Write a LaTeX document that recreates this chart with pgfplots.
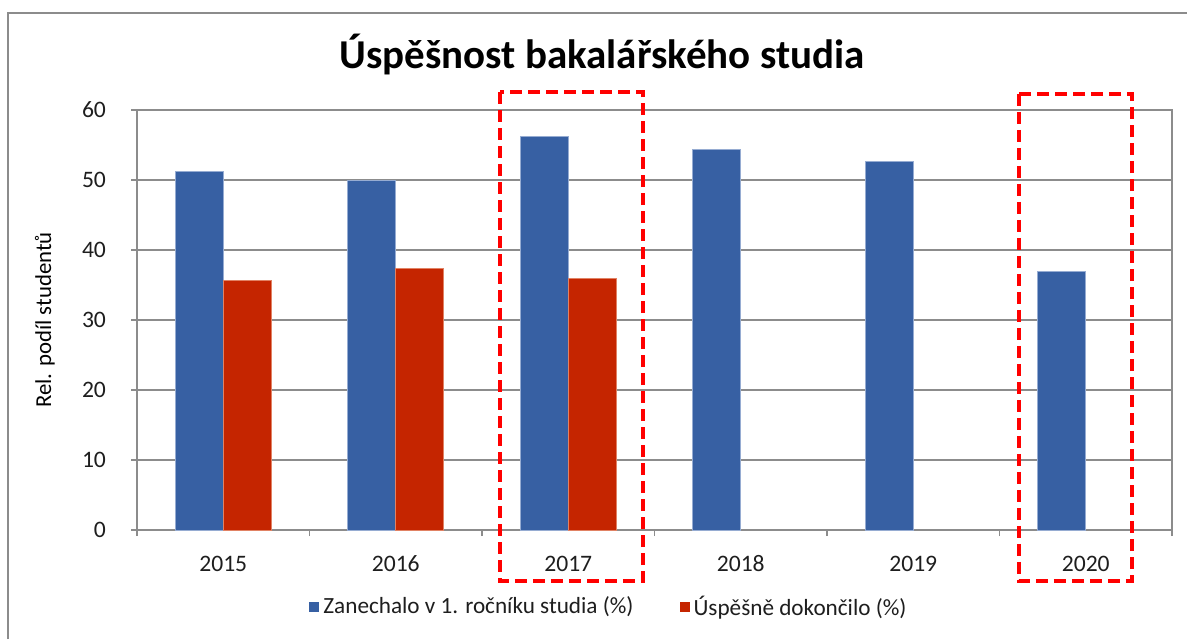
\documentclass[border=0pt]{standalone}
\usepackage{fontspec}
\setmainfont{Carlito}
\usepackage{pgfplots}
\pgfplotsset{compat=1.18}
\definecolor{barblue}{RGB}{55,96,163}
\definecolor{barred}{RGB}{197,37,0}
\definecolor{gridgray}{RGB}{140,140,140}
\definecolor{txt}{RGB}{30,30,30}
\begin{document}
\begin{tikzpicture}
\path[use as bounding box] (0,0) rectangle (593.5pt,319.5pt);
\draw[gridgray, line width=0.8pt] (4pt,0) -- (4pt,313pt) -- (593.5pt,313pt);
\node[font=\fontsize{20.5}{23}\selectfont\bfseries, text=black] at (301pt,292pt) {Úspěšnost bakalářského studia};
\begin{axis}[
  at={(68.5pt,54.5pt)}, anchor=south west,
  scale only axis, width=517.5pt, height=210pt,
  xmin=-0.5, xmax=5.5, ymin=0, ymax=60,
  ybar=0pt, bar width=24pt,
  clip=false,
  /pgf/number format/assume math mode=true,
  xtick={0,...,5}, xticklabels={2015,2016,2017,2018,2019,2020},
  ytick={0,10,...,60},
  minor xtick={-0.5,0.5,...,5.5},
  tick pos=left,
  tick align=outside,
  major tick length=3pt, minor tick length=3pt,
  major x tick style={draw=none},
  minor x tick style={gridgray, line width=0.8pt},
  ytick style={gridgray, line width=0.8pt},
  ymajorgrids, grid style={gridgray, line width=0.8pt},
  axis line style={gridgray, line width=0.8pt},
  tick label style={font=\fontsize{11.8}{13}\selectfont, text=txt},
  yticklabel style={xshift=-9pt},
  xticklabel style={yshift=-6pt, text height=8pt, text depth=0pt},
  ylabel={Rel. podíl studentů},
  ylabel style={at={(axis description cs:-0.089,0.5)}, rotate=0, anchor=center, font=\fontsize{11.4}{13}\selectfont, text=black},
  legend style={at={(0.457,-0.183)}, anchor=center, draw=none, legend columns=2,
    font=\fontsize{11.6}{13}\selectfont, text=txt,
    /tikz/every even column/.append style={column sep=21pt}},
  legend image code/.code={\fill[#1,draw=none] (0pt,-2.5pt) rectangle (5pt,2.5pt);},
]
\addplot[fill=barblue, draw={rgb,255:red,150;green,172;blue,210}, line width=0.4pt] coordinates {(0,51.2) (1,50.0) (2,56.2) (3,54.4) (4,52.7) (5,36.9)};
\addlegendentry{Zanechalo v 1. ročníku studia (\%)}
\addplot[fill=barred, draw={rgb,255:red,225;green,130;blue,100}, line width=0.4pt] coordinates {(0,35.7) (1,37.4) (2,36.0)};
\addlegendentry{Úspěšně dokončilo (\%)}
\draw[red, line width=2pt, dash pattern=on 6pt off 3pt] (axis cs:1.604,62.57) rectangle (axis cs:2.433,-7.29);
\draw[red, line width=2pt, dash pattern=on 6pt off 3pt] (axis cs:4.613,62.29) rectangle (axis cs:5.268,-7.29);
\end{axis}
\end{tikzpicture}
\end{document}
